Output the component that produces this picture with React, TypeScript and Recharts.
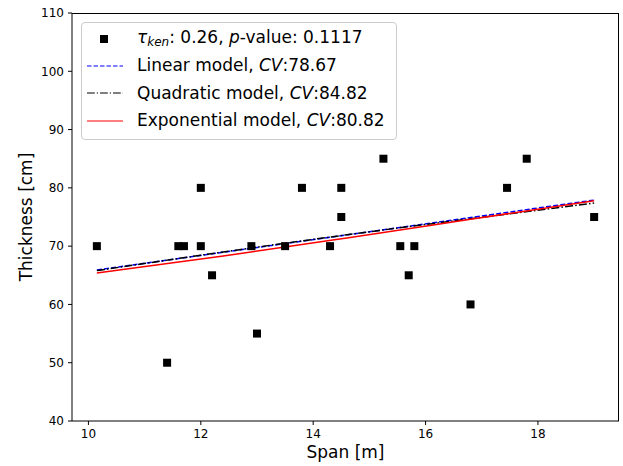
import { ComposedChart, Scatter, Line, XAxis, YAxis, Legend, Label } from "recharts";

const spanM = [10.15, 11.4, 11.6, 11.7, 12.0, 12.0, 12.2, 12.9, 13.0, 13.5, 13.8, 14.3, 14.5, 14.5, 15.25, 15.55, 15.7, 15.8, 16.8, 17.45, 17.8, 19.0];
const thicknessCm = [70, 50, 70, 70, 80, 70, 65, 70, 55, 70, 80, 70, 80, 75, 85, 70, 65, 70, 60, 80, 85, 75];

// fitted model curves
const linearX = [10.15, 19.0];
const linearY = [65.9, 77.9];
const quadX = [10.15, 12.4, 14.6, 16.8, 19.0];
const quadY = [65.8, 69.0, 71.95, 74.7, 77.4];
const expX = [10.15, 12.4, 14.6, 16.8, 19.0];
const expY = [65.4, 68.3, 71.4, 74.6, 77.8];

const xTicks = [10, 12, 14, 16, 18];
const yTicks = [40, 50, 60, 70, 80, 90, 100, 110];
const xDomain = [9.7075, 19.4425];
const yDomain = [40, 110];

const zip = (xs: number[], ys: number[]) => xs.map((x, i) => ({ x, y: ys[i] }));
const points = zip(spanM, thicknessCm);
const linear = zip(linearX, linearY);
const quadratic = zip(quadX, quadY);
const exponential = zip(expX, expY);

const FONT = "DejaVu Sans, sans-serif";
const M = { top: 13, right: 4, left: 72, bottom: 45 };

const SquareDot = (props: any) => {
  const { cx, cy } = props;
  if (cx == null || cy == null) return null;
  return <rect x={cx - 4} y={cy - 4} width={8} height={8} fill="#000" />;
};

function LegendSample({ kind }: { kind: string }) {
  return (
    <svg width={36} height={14} style={{ display: "block", flex: "none" }}>
      {kind === "points" && <rect x={13} y={3} width={8} height={8} fill="#000" />}
      {kind === "linear" && <line x1={0} x2={36} y1={7} y2={7} stroke="blue" strokeWidth={1.2} strokeDasharray="4.5 2" />}
      {kind === "quad" && <line x1={0} x2={36} y1={7} y2={7} stroke="#000" strokeWidth={1.2} strokeDasharray="7.8 2 1.2 2" />}
      {kind === "exp" && <line x1={0} x2={36} y1={7} y2={7} stroke="red" strokeWidth={1.2} />}
    </svg>
  );
}

function LegendBox() {
  const row = { display: "flex", alignItems: "center", height: 27.3, gap: 14 } as const;
  return (
    <div
      style={{
        width: 309,
        height: 114,
        boxSizing: "content-box",
        border: "1px solid #cccccc",
        borderRadius: 4,
        background: "rgba(255,255,255,0.8)",
        padding: "2px 0 0 5px",
        fontFamily: FONT,
        fontSize: 17,
        color: "#000",
        lineHeight: 1,
      }}
    >
      <div style={row}>
        <LegendSample kind="points" />
        <span>
          <i>τ</i>
          <sub style={{ fontSize: 12, fontStyle: "italic", verticalAlign: -3 }}>ken</sub>: 0.26, <i>p</i>-value: 0.1117
        </span>
      </div>
      <div style={row}>
        <LegendSample kind="linear" />
        <span>
          Linear model, <i>CV</i>:78.67
        </span>
      </div>
      <div style={row}>
        <LegendSample kind="quad" />
        <span>
          Quadratic model, <i>CV</i>:84.82
        </span>
      </div>
      <div style={row}>
        <LegendSample kind="exp" />
        <span>
          Exponential model, <i>CV</i>:80.82
        </span>
      </div>
    </div>
  );
}

export default function App() {
  const tick = { fontSize: 12, fill: "#000", fontFamily: FONT };
  return (
    <div style={{ position: "absolute", left: 0, top: 0, width: 623, height: 466, background: "#fff" }}>
      <ComposedChart width={623} height={466} margin={{ top: M.top, right: M.right, bottom: 0, left: 0 }}>
        <XAxis
          type="number"
          dataKey="x"
          domain={xDomain}
          ticks={xTicks}
          allowDataOverflow
          height={M.bottom}
          tick={tick}
          tickSize={4}
          tickMargin={4}
          stroke="#000"
        >
          <Label
            content={() => (
              <text x={345.5} y={452} textAnchor="middle" dominantBaseline="central" fontSize={17} fill="#000" fontFamily={FONT}>
                Span [m]
              </text>
            )}
          />
        </XAxis>
        <YAxis
          type="number"
          dataKey="y"
          domain={yDomain}
          ticks={yTicks}
          allowDataOverflow
          width={M.left}
          tick={tick}
          tickSize={4}
          tickMargin={4}
          stroke="#000"
        >
          <Label
            content={() => (
              <text x={26} y={217} transform="rotate(-90 26 217)" textAnchor="middle" dominantBaseline="central" fontSize={17} fill="#000" fontFamily={FONT}>
                Thickness [cm]
              </text>
            )}
          />
        </YAxis>
        <Scatter data={points} dataKey="y" fill="#000" shape={SquareDot} isAnimationActive={false} />
        <Line data={linear} dataKey="y" type="linear" stroke="blue" strokeWidth={1.5} strokeDasharray="5 2.2" dot={false} activeDot={false} isAnimationActive={false} />
        <Line data={quadratic} dataKey="y" type="monotone" stroke="#000" strokeWidth={1.5} strokeDasharray="8 2.2 1.5 2.2" dot={false} activeDot={false} isAnimationActive={false} />
        <Line data={exponential} dataKey="y" type="monotone" stroke="red" strokeWidth={1.5} dot={false} activeDot={false} isAnimationActive={false} />
        <Legend
          layout="vertical"
          align="center"
          verticalAlign="middle"
          content={() => <LegendBox />}
          wrapperStyle={{ left: 81, top: 22, width: 316, height: 118, margin: 0 }}
        />
      </ComposedChart>
      {/* top and right spines of the axes frame */}
      <div
        style={{
          position: "absolute",
          left: M.left,
          top: M.top - 0.5,
          width: 623 - M.left - M.right,
          height: 466 - M.top - M.bottom,
          borderTop: "1px solid #000",
          borderRight: "1px solid #000",
          boxSizing: "border-box",
          pointerEvents: "none",
        }}
      />
    </div>
  );
}
